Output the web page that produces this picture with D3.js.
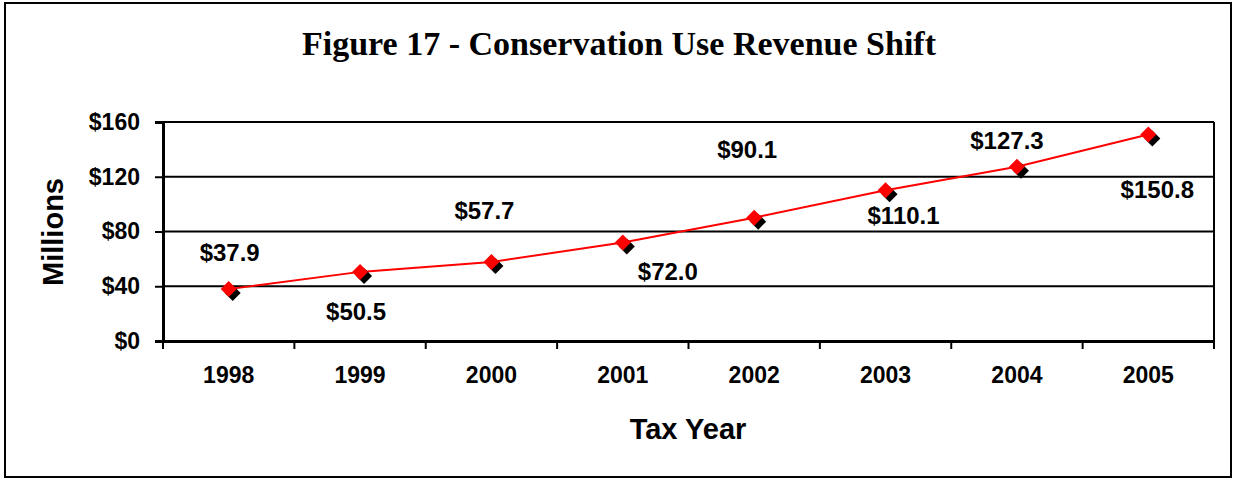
<!DOCTYPE html>
<html>
<head>
<meta charset="utf-8">
<script src="https://cdn.jsdelivr.net/npm/d3@7"></script>
<style>
  html, body { margin: 0; padding: 0; background: #fff; }
  svg { display: block; }
</style>
</head>
<body>
<svg id="chart" width="1233" height="479"></svg>
<script>
// Conservation use revenue shift, in millions of dollars, by tax year
const years = ["1998", "1999", "2000", "2001", "2002", "2003", "2004", "2005"];
const revenue = [37.9, 50.5, 57.7, 72.0, 90.1, 110.1, 127.3, 150.8];
const yTicks = [0, 40, 80, 120, 160];
const titleText = "Figure 17 - Conservation Use Revenue Shift";
const xTitle = "Tax Year";
const yTitle = "Millions";

// Pixel offsets of each value label from its point (label layout)
const labelDx = [1, -4, -7, 45, -7, 18, -10, 9];
const labelDy = [-28, 48, -43, 38, -60, 34, -18, 63];

const svg = d3.select("#chart");
const plot = { left: 163, right: 1214, top: 122, bottom: 341 };

// Outer frame
svg.append("rect")
  .attr("x", 5).attr("y", 3).attr("width", 1226).attr("height", 474)
  .attr("fill", "#fff").attr("stroke", "#000").attr("stroke-width", 2);

// Title
svg.append("text")
  .attr("x", 619).attr("y", 55)
  .attr("text-anchor", "middle")
  .attr("font-family", "'Liberation Serif', 'Times New Roman', serif")
  .attr("font-weight", "bold")
  .attr("font-size", 34)
  .text(titleText);

const x = d3.scaleBand().domain(years).range([plot.left, plot.right]).padding(0);
const y = d3.scaleLinear().domain([0, 160]).range([plot.bottom, plot.top]);

const font = "'Liberation Sans', Arial, sans-serif";

// Horizontal gridlines
svg.append("g")
  .selectAll("line")
  .data(yTicks.filter(d => d > 0))
  .join("line")
  .attr("x1", plot.left).attr("x2", plot.right)
  .attr("y1", d => y(d)).attr("y2", d => y(d))
  .attr("stroke", "#000").attr("stroke-width", 2);

// Right edge of plot area
svg.append("line")
  .attr("x1", plot.right).attr("x2", plot.right)
  .attr("y1", plot.top).attr("y2", plot.bottom)
  .attr("stroke", "#000").attr("stroke-width", 2);

// Y axis
const yAxis = svg.append("g")
  .attr("transform", `translate(${plot.left},0)`)
  .call(d3.axisLeft(y).tickValues(yTicks).tickSize(8).tickPadding(15)
    .tickFormat(d => "$" + d));
yAxis.select(".domain").attr("stroke-width", 3);
yAxis.selectAll(".tick line").attr("stroke-width", 2);
yAxis.selectAll("text")
  .attr("font-family", font).attr("font-weight", "bold")
  .attr("font-size", 23).attr("fill", "#000");

// X axis with ticks on the category boundaries
const xAxis = svg.append("g")
  .attr("transform", `translate(0,${plot.bottom})`)
  .call(d3.axisBottom(x).tickSize(0).tickPadding(26));
xAxis.select(".domain").attr("stroke-width", 3);
xAxis.selectAll("text")
  .attr("font-family", font).attr("font-weight", "bold")
  .attr("font-size", 23).attr("fill", "#000");
svg.append("g")
  .selectAll("line")
  .data(years.concat([null]))
  .join("line")
  .attr("x1", (d, i) => plot.left + i * x.step())
  .attr("x2", (d, i) => plot.left + i * x.step())
  .attr("y1", plot.bottom).attr("y2", plot.bottom + 8)
  .attr("stroke", "#000").attr("stroke-width", 2);

// Axis titles
svg.append("text")
  .attr("x", 688).attr("y", 439)
  .attr("text-anchor", "middle")
  .attr("font-family", font).attr("font-weight", "bold")
  .attr("font-size", 29)
  .text(xTitle);
svg.append("text")
  .attr("transform", "translate(63,232) rotate(-90)")
  .attr("text-anchor", "middle")
  .attr("font-family", font).attr("font-weight", "bold")
  .attr("font-size", 29)
  .text(yTitle);

// Series line
const pts = years.map((yr, i) => ({ yr, v: revenue[i], i }));
const cx = d => x(d.yr) + x.bandwidth() / 2;
svg.append("path")
  .datum(pts)
  .attr("d", d3.line().x(cx).y(d => y(d.v)))
  .attr("fill", "none").attr("stroke", "#ff0000").attr("stroke-width", 2);

// Diamond markers with a dark drop shadow
const diamond = "M0,-8L8,0L0,8L-8,0Z";
svg.append("g").selectAll("path")
  .data(pts).join("path")
  .attr("d", diamond)
  .attr("transform", d => `translate(${cx(d) + 4},${y(d.v) + 4})`)
  .attr("fill", "#000");
svg.append("g").selectAll("path")
  .data(pts).join("path")
  .attr("d", diamond)
  .attr("transform", d => `translate(${cx(d)},${y(d.v)})`)
  .attr("fill", "#ff0000");

// Value labels
svg.append("g").selectAll("text")
  .data(pts).join("text")
  .attr("x", d => cx(d) + labelDx[d.i])
  .attr("y", d => y(d.v) + labelDy[d.i])
  .attr("text-anchor", "middle")
  .attr("font-family", font).attr("font-weight", "bold")
  .attr("font-size", 24)
  .text(d => "$" + d.v.toFixed(1));
</script>
</body>
</html>
